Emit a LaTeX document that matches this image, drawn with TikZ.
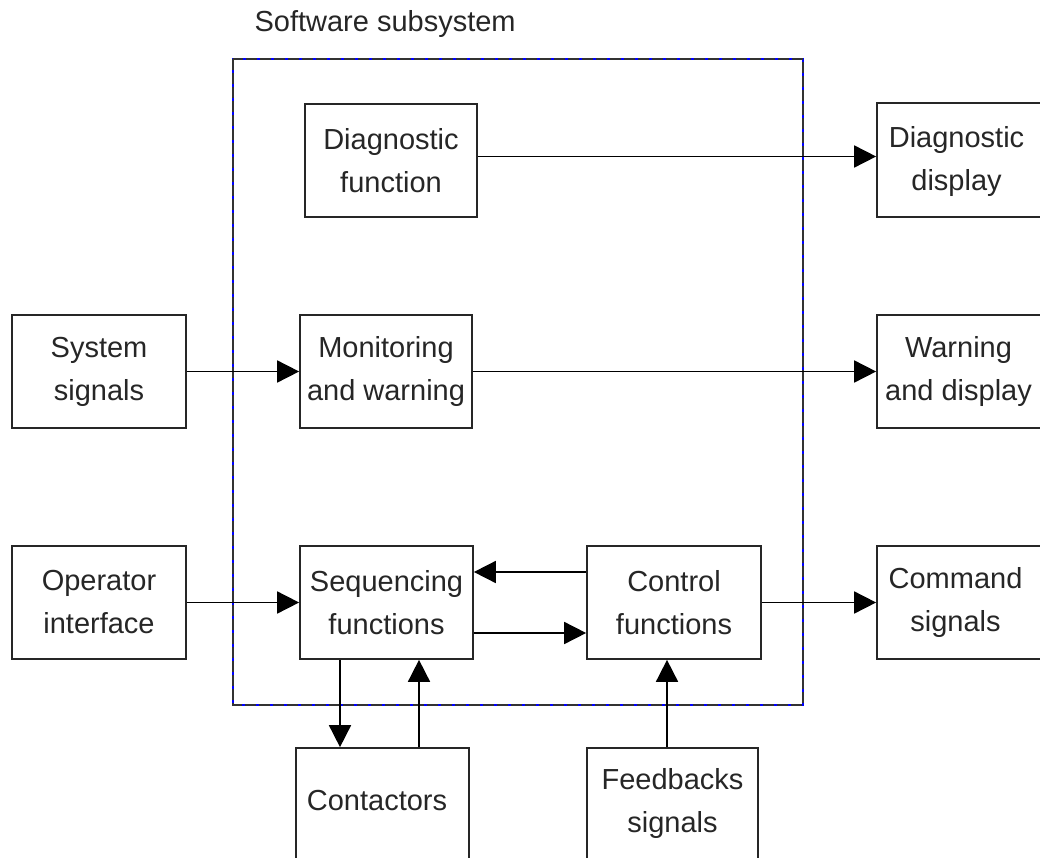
\documentclass[tikz,border=0pt]{standalone}
\usepackage{fontspec}
\setmainfont{Liberation Sans}
\usetikzlibrary{arrows.meta}

\tikzset{
  txt/.style={font=\fontsize{29pt}{43pt}\selectfont, align=center, text=black!85},
  block/.style={draw=black!85, line width=1.7pt, inner sep=0pt, txt},
  flow/.style={draw=black, line width=1.7pt, -{Triangle[length=22pt,width=22pt]}},
  frameblue/.style={draw=blue, line width=1.7pt},
  framedash/.style={draw=black!80, line width=1.7pt, dash pattern=on 11pt off 3pt},
}

\begin{document}
\begin{tikzpicture}[x=1pt, y=-1pt]
  \useasboundingbox (0,0) rectangle (1040,858);
  \clip (0,0) rectangle (1040,858);

  % software subsystem frame
  \draw[frameblue] (233,59) rectangle (803,705);
  \draw[framedash] (233,59) rectangle (803,705);
  \node[txt, anchor=base west] (title) at (251,32) {Software subsystem};

  % blocks inside the subsystem
  \node[block, minimum width=172pt, minimum height=113pt] (diag) at (391,160.5) {Diagnostic\\function};
  \node[block, minimum width=172pt, minimum height=113pt] (mon)  at (386,371.5) {Monitoring\\and warning};
  \node[block, minimum width=173pt, minimum height=113pt] (seq)  at (386.5,602.5) {Sequencing\\functions};
  \node[block, minimum width=174pt, minimum height=113pt] (ctrl) at (674,602.5) {Control\\functions};

  % inputs on the left
  \node[block, minimum width=174pt, minimum height=113pt] (sys) at (99,371.5) {System\\signals};
  \node[block, minimum width=174pt, minimum height=113pt] (op)  at (99,602.5) {Operator\\interface};

  % outputs on the right
  \node[block, minimum width=183pt, minimum height=114pt,
        label={[txt, xshift=-12pt, yshift=-2pt]center:Diagnostic\\display}] (ddisp) at (968.5,160) {};
  \node[block, minimum width=183pt, minimum height=113pt,
        label={[txt, xshift=-10pt]center:Warning\\and display}] (warn) at (968.5,371.5) {};
  \node[block, minimum width=183pt, minimum height=113pt,
        label={[txt, xshift=-13pt]center:Command\\signals}] (cmd) at (968.5,602.5) {};

  % blocks below the subsystem
  \node[block, minimum width=173pt, minimum height=152pt,
        label={[txt, xshift=-5.5pt, yshift=23.5pt]center:Contactors}] (cont) at (382.5,824) {};
  \node[block, minimum width=171pt, minimum height=152pt,
        label={[txt, yshift=21pt]center:Feedbacks\\signals}] (fb) at (672.5,824) {};

  % connectors
  \draw[flow] ([yshift=4pt]diag.east) -- ([yshift=4pt]diag.east -| ddisp.west);
  \draw[flow] (sys.east) -- (mon.west);
  \draw[flow] (mon.east) -- (warn.west);
  \draw[flow] (op.east) -- (seq.west);
  \draw[flow] ([yshift=30.5pt]ctrl.west) -- ([yshift=30.5pt]seq.east);
  \draw[flow] ([yshift=-30.5pt]seq.east) -- ([yshift=-30.5pt]ctrl.west);
  \draw[flow] (ctrl.east) -- (cmd.west);
  \draw[flow] ([xshift=-46.5pt]seq.south) -- ([xshift=-46.5pt]seq.south |- cont.north);
  \draw[flow] ([xshift=32.5pt]seq.south |- cont.north) -- ([xshift=32.5pt]seq.south);
  \draw[flow] ([xshift=-7pt]ctrl.south |- fb.north) -- ([xshift=-7pt]ctrl.south);
\end{tikzpicture}
\end{document}
